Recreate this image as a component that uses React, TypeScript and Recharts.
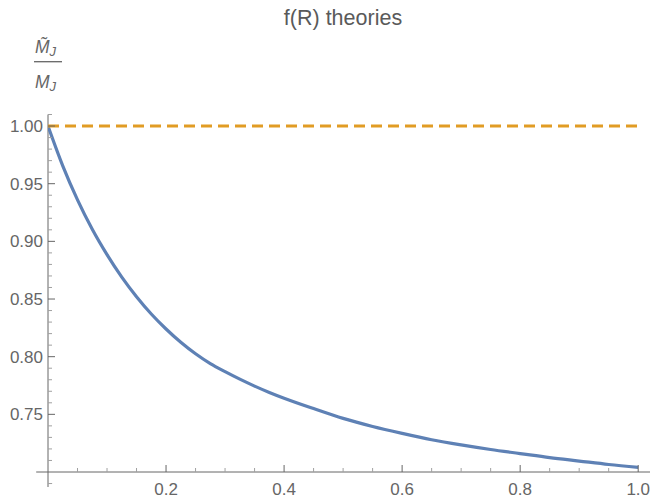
import { LineChart, Line, XAxis, YAxis, ReferenceLine } from 'recharts';

// R values (x) and the two curves
const rValues = [0, 0.025, 0.05, 0.075, 0.1, 0.125, 0.15, 0.175, 0.2, 0.225, 0.25, 0.275, 0.3, 0.325, 0.35, 0.375, 0.4, 0.45, 0.5, 0.55, 0.6, 0.65, 0.7, 0.75, 0.8, 0.85, 0.9, 0.95, 1.0];
const massRatio = [1.0, 0.9655, 0.936, 0.9105, 0.8885, 0.869, 0.852, 0.837, 0.824, 0.8125, 0.8025, 0.794, 0.787, 0.7805, 0.7745, 0.769, 0.764, 0.755, 0.7465, 0.7395, 0.7335, 0.728, 0.7235, 0.7195, 0.716, 0.7125, 0.7095, 0.7065, 0.704];
const gr = rValues.map(() => 1.0);

const xTicks = [0.05, 0.1, 0.15, 0.2, 0.25, 0.3, 0.35, 0.4, 0.45, 0.5, 0.55, 0.6, 0.65, 0.7, 0.75, 0.8, 0.85, 0.9, 0.95, 1.0];
const xMajor = [0.2, 0.4, 0.6, 0.8, 1.0];
const yTicks = [0.71, 0.72, 0.73, 0.74, 0.75, 0.76, 0.77, 0.78, 0.79, 0.8, 0.81, 0.82, 0.83, 0.84, 0.85, 0.86, 0.87, 0.88, 0.89, 0.9, 0.91, 0.92, 0.93, 0.94, 0.95, 0.96, 0.97, 0.98, 0.99, 1.0, 1.01];
const yMajor = [0.75, 0.8, 0.85, 0.9, 0.95, 1.0];

const data = rValues.map((r, i) => ({ r, ratio: massRatio[i], gr: gr[i] }));

const AXIS = '#666666';
const MINOR = '#a0a0a0';
const FONT = '"Liberation Sans", Arial, Helvetica, sans-serif';

const isMajor = (list: number[], v: number) => list.some(m => Math.abs(m - v) < 1e-6);

const XTick = (props: any) => {
  const { x, y, payload } = props;
  const major = isMajor(xMajor, payload.value);
  return (
    <g>
      <line x1={x} x2={x} y1={y} y2={y - (major ? 7 : 4)} stroke={major ? AXIS : MINOR} strokeWidth={1} />
      {major && (
        <text x={x} y={y + 23} textAnchor="middle" fontSize={17} fill={AXIS} fontFamily={FONT}>
          {payload.value.toFixed(1)}
        </text>
      )}
    </g>
  );
};

const YTick = (props: any) => {
  const { x, y, payload } = props;
  const major = isMajor(yMajor, payload.value);
  return (
    <g>
      <line x1={x} x2={x + (major ? 7 : 4)} y1={y} y2={y} stroke={major ? AXIS : MINOR} strokeWidth={1} />
      {major && (
        <text x={x - 5} y={y} dy="0.36em" textAnchor="end" fontSize={17} fill={AXIS} fontFamily={FONT}>
          {payload.value.toFixed(2)}
        </text>
      )}
    </g>
  );
};

export default function App() {
  return (
    <div style={{ position: 'absolute', left: 0, top: 0, width: 653, height: 500, background: '#fff' }}>
      <LineChart width={653} height={500} data={data} margin={{ top: 114.5, right: 3, bottom: 3, left: 8 }}>
        <XAxis
          dataKey="r"
          type="number"
          domain={[0, 1.02]}
          allowDataOverflow
          ticks={xTicks}
          interval={0}
          tick={<XTick />}
          tickSize={0}
          tickMargin={0}
          axisLine={false}
          tickLine={false}
          height={25}
        />
        <YAxis
          type="number"
          domain={[0.7, 1.01]}
          allowDataOverflow
          ticks={yTicks}
          interval={0}
          tick={<YTick />}
          tickSize={0}
          tickMargin={0}
          axisLine={false}
          tickLine={false}
          width={40}
        />
        <ReferenceLine segment={[{ x: -0.02, y: 0.7 }, { x: 1.02, y: 0.7 }]} stroke={AXIS} strokeWidth={1} ifOverflow="visible" />
        <ReferenceLine segment={[{ x: 0, y: 0.687 }, { x: 0, y: 1.01 }]} stroke={AXIS} strokeWidth={1} ifOverflow="visible" />
        <ReferenceLine segment={[{ x: 0, y: 0.69 }, { x: 0.007, y: 0.69 }]} stroke={MINOR} strokeWidth={1} ifOverflow="visible" />
        <Line type="monotone" dataKey="ratio" stroke="#5E81B5" strokeWidth={3.2} dot={false} isAnimationActive={false} />
        <Line type="linear" dataKey="gr" stroke="#E19C24" strokeWidth={3} strokeDasharray="11 6" dot={false} isAnimationActive={false} />
      </LineChart>
      <svg width={653} height={110} style={{ position: 'absolute', left: 0, top: 0, pointerEvents: 'none' }}>
        <text x={343} y={25} textAnchor="middle" fontSize={21.5} fill="#5a5a5a" fontFamily={FONT}>
          f(R) theories
        </text>
        <text x={35} y={53} fontSize={17.5} fontStyle="italic" fill={AXIS} fontFamily={FONT}>
          {'M\u0303'}
          <tspan fontSize={13} dy={3}>J</tspan>
        </text>
        <line x1={34} x2={62} y1={61.7} y2={61.7} stroke={AXIS} strokeWidth={1.3} />
        <text x={35} y={88} fontSize={17.5} fontStyle="italic" fill={AXIS} fontFamily={FONT}>
          M
          <tspan fontSize={13} dy={3}>J</tspan>
        </text>
      </svg>
    </div>
  );
}
